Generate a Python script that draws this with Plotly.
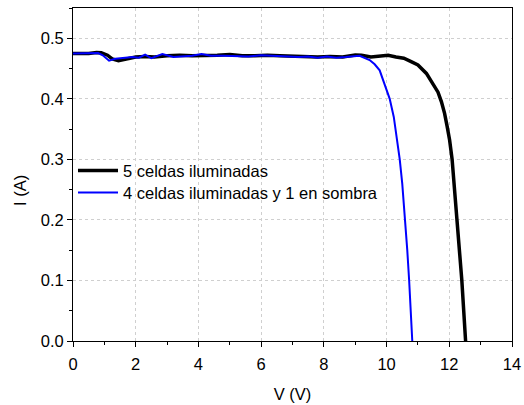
import plotly.graph_objects as go

# 5 celdas iluminadas
v_black = [0, 0.25, 0.5, 0.75, 0.9, 1.1, 1.25, 1.45, 1.7, 2.0, 2.3, 2.6, 3.0, 3.4, 3.8, 4.2,
           4.6, 5.0, 5.4, 5.8, 6.2, 6.6, 7.0, 7.4, 7.8, 8.2, 8.6, 9.0, 9.2, 9.5, 9.8, 10.05,
           10.3, 10.55, 10.8, 11.0, 11.27, 11.45, 11.64, 11.75, 11.85, 11.93, 12.01, 12.09,
           12.17, 12.26, 12.33, 12.40, 12.46, 12.52]
i_black = [0.475, 0.475, 0.475, 0.4765, 0.476, 0.472, 0.466, 0.463, 0.466, 0.469, 0.470, 0.469,
           0.471, 0.472, 0.471, 0.471, 0.472, 0.473, 0.471, 0.471, 0.472, 0.471, 0.470, 0.470,
           0.469, 0.470, 0.469, 0.4725, 0.472, 0.469, 0.470, 0.472, 0.469, 0.467, 0.461, 0.456,
           0.442, 0.428, 0.411, 0.395, 0.376, 0.355, 0.332, 0.300, 0.250, 0.200, 0.150, 0.100,
           0.050, 0.0]

# 4 celdas iluminadas y 1 en sombra
v_blue = [0, 0.5, 0.8, 0.95, 1.15, 1.35, 1.6, 1.9, 2.1, 2.3, 2.5, 2.85, 3.2, 3.5, 3.8, 4.1,
          4.4, 4.8, 5.2, 5.6, 6.0, 6.4, 6.8, 7.2, 7.5, 7.8, 8.1, 8.4, 8.7, 9.0, 9.14, 9.46,
          9.62, 9.78, 9.94, 10.10, 10.23, 10.33, 10.42, 10.50, 10.60, 10.66, 10.72, 10.77,
          10.82]
i_blue = [0.475, 0.475, 0.4755, 0.472, 0.463, 0.466, 0.467, 0.469, 0.468, 0.473, 0.467, 0.474,
          0.469, 0.470, 0.471, 0.474, 0.471, 0.471, 0.470, 0.470, 0.472, 0.471, 0.470, 0.469,
          0.470, 0.468, 0.470, 0.468, 0.469, 0.470, 0.471, 0.464, 0.457, 0.447, 0.425, 0.400,
          0.370, 0.337, 0.300, 0.260, 0.200, 0.150, 0.100, 0.050, 0.0]

x_ticks = [0, 2, 4, 6, 8, 10, 12, 14]
y_ticks = [0.0, 0.1, 0.2, 0.3, 0.4, 0.5]
y_ticklabels = ["0.0", "0.1", "0.2", "0.3", "0.4", "0.5"]

FONT = "Liberation Sans, Arial, sans-serif"

fig = go.Figure()
fig.add_trace(go.Scatter(x=v_black, y=i_black, mode="lines", name="5 celdas iluminadas",
                         line=dict(color="black", width=3.5), legend="legend"))
fig.add_trace(go.Scatter(x=v_blue, y=i_blue, mode="lines", name="4 celdas iluminadas y 1 en sombra",
                         line=dict(color="#0000ff", width=2), legend="legend2"))

axis_common = dict(
    showline=True, linecolor="black", linewidth=1, mirror=True,
    ticks="outside", ticklen=5, tickwidth=1, tickcolor="black",
    showgrid=True, gridcolor="#cfcfcf", griddash="dot", gridwidth=1,
    zeroline=False, automargin=False,
    tickfont=dict(family=FONT, size=16.5, color="black"),
)

fig.update_xaxes(range=[0, 14], tickvals=x_ticks, ticklabelstandoff=3,
                 minor=dict(dtick=1, ticks="outside", ticklen=3, tickcolor="black", showgrid=False),
                 title=dict(text="V (V)", font=dict(family=FONT, size=16.5, color="black"), standoff=16),
                 **axis_common)
fig.update_yaxes(range=[0, 0.55], tickvals=y_ticks, ticktext=y_ticklabels,
                 minor=dict(dtick=0.05, ticks="outside", ticklen=3, tickcolor="black", showgrid=False),
                 **axis_common)

fig.add_annotation(text="I (A)", xref="paper", yref="paper", x=-0.121, y=0.453,
                   xanchor="center", yanchor="middle",
                   showarrow=False, textangle=-90,
                   font=dict(family=FONT, size=16.5, color="black"))

leg_common = dict(xanchor="left", yanchor="middle", bgcolor="rgba(0,0,0,0)",
                  font=dict(family=FONT, size=16.5, color="black"), itemwidth=40)

fig.update_layout(
    width=524, height=405,
    margin=dict(l=73, r=12, t=8, b=64, autoexpand=False),
    plot_bgcolor="white", paper_bgcolor="white",
    showlegend=True,
    legend=dict(x=0.0, y=(341 - 170.7) / 333, **leg_common),
    legend2=dict(x=0.0, y=(341 - 192.7) / 333, **leg_common),
)

fig.write_html("out.html")
